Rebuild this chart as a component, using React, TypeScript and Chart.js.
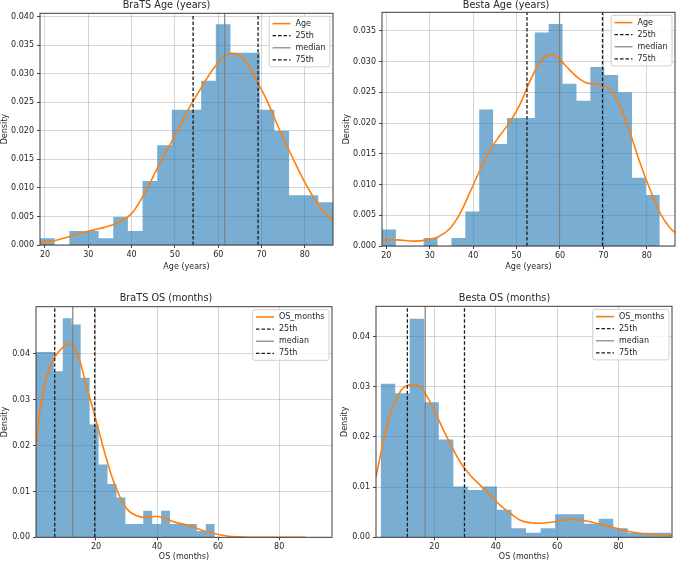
import { useEffect, useRef } from "react";
import { Chart, registerables } from "chart.js";

Chart.register(...registerables);

const FONT_FAMILY = "'DejaVu Sans', 'Liberation Sans', sans-serif";
const TEXT_COLOR = "#262626";
const HIST_FILL = "rgba(31, 119, 180, 0.6)";
const KDE_COLOR = "#ff7f0e";
const QUARTILE_COLOR = "#1a1a1a";
const MEDIAN_COLOR = "#808080";
const GRID_COLOR = "rgba(0, 0, 0, 0.16)";
const TITLE_SIZE = 9.7;

// ---- BraTS: age at diagnosis ----
const bratsAgeBinRange = [18.85, 86.5];
const bratsAgeDensity = [
  0.00117, 0, 0.00245, 0.00245, 0.00117, 0.0049, 0.00245, 0.0112, 0.0175, 0.0237,
  0.0237, 0.0288, 0.0387, 0.0337, 0.0337, 0.0237, 0.02, 0.0087, 0.0087, 0.0075,
];
const bratsAgeKdeX = [
  18.85, 22.3, 25.8, 28.8, 32.7, 35.8, 38, 40, 41.9, 44.2, 46.5, 49.6, 52.7, 55.8,
  58.8, 61.9, 62.8, 65.8, 68.8, 71.2, 74.2, 77.3, 80.4, 83.5, 86.5,
];
const bratsAgeKdeY = [
  0.0005, 0.0008, 0.0015, 0.0022, 0.0029, 0.0036, 0.0044, 0.0055, 0.0076, 0.0108,
  0.0143, 0.0186, 0.0232, 0.0272, 0.0308, 0.0333, 0.0336, 0.0327, 0.0289, 0.0254,
  0.0201, 0.0151, 0.0104, 0.0067, 0.0042,
];
const bratsAgeQuartiles = [54.2, 61.5, 69.2];
const bratsAgeXLim = [18.85, 86.5];
const bratsAgeYMax = 0.0406;

// ---- Besta: age at diagnosis ----
const bestaAgeBinRange = [19, 83];
const bestaAgeDensity = [
  0.0027, 0, 0, 0.0013, 0, 0.0013, 0.0056, 0.0222, 0.0166, 0.0208,
  0.0208, 0.0347, 0.0361, 0.0264, 0.0236, 0.0291, 0.0278, 0.025, 0.0111, 0.0083,
];
const bestaAgeKdeX = [
  19, 22.5, 26.3, 29.4, 32, 34.7, 37, 39.3, 41.6, 43.9, 46.2, 48.5, 50.9, 53.2, 55.5,
  57.8, 59.7, 61.6, 63.9, 66.2, 69.3, 71.6, 73.9, 76.2, 78.5, 80.8, 83.1, 85.4, 86.5,
];
const bestaAgeKdeY = [
  0.001, 0.001, 0.0008, 0.001, 0.0015, 0.0029, 0.0053, 0.0088, 0.0124, 0.0156, 0.018,
  0.0202, 0.0232, 0.027, 0.03, 0.0312, 0.0305, 0.0291, 0.0275, 0.0265, 0.0262, 0.0254,
  0.0226, 0.0183, 0.0134, 0.0091, 0.0053, 0.0029, 0.0022,
];
const bestaAgeQuartiles = [52.4, 59.9, 69.8];
const bestaAgeXLim = [19, 86.5];
const bestaAgeYMax = 0.038;

// ---- BraTS: overall survival ----
const bratsOsBinRange = [0.36, 58.9];
const bratsOsDensity = [
  0.0404, 0.0404, 0.0362, 0.0478, 0.0464, 0.0348, 0.0246, 0.0159, 0.0116, 0.0087,
  0.0029, 0.0029, 0.0058, 0.0029, 0.0058, 0.0029, 0.0029, 0.0029, 0.0014, 0.0029,
];
const bratsOsKdeX = [
  0.36, 1.7, 3.3, 4.9, 6.6, 8.8, 10.9, 12.6, 14.8, 16.9, 19.1, 21.3, 23.5, 25.6, 27.8,
  30, 33.3, 36.6, 39.8, 43.1, 46.4, 49.7, 53, 56.2, 59.5, 62.8, 66.1, 70.5, 80, 88.6,
];
const bratsOsKdeY = [
  0.0198, 0.0278, 0.0336, 0.0371, 0.0394, 0.0412, 0.0422, 0.0416, 0.0383, 0.0329,
  0.0278, 0.0223, 0.0169, 0.0125, 0.0089, 0.0063, 0.0047, 0.0043, 0.0046, 0.004,
  0.0032, 0.0027, 0.002, 0.0012, 0.0007, 0.0003, 0.0001, 0, 0, 0,
];
const bratsOsQuartiles = [6.5, 12.4, 19.6];
const bratsOsXLim = [0.36, 97.3];
const bratsOsYMax = 0.0503;

// ---- Besta: overall survival ----
const bestaOsBinRange = [2.5, 97.2];
const bestaOsDensity = [
  0.0306, 0.0287, 0.0435, 0.0269, 0.0195, 0.0101, 0.0094, 0.0101, 0.0055, 0.0018,
  0.0009, 0.0018, 0.0046, 0.0046, 0.0027, 0.0037, 0.0018, 0.0009, 0.0009, 0.0009,
];
const bestaOsKdeX = [
  0.98, 2.8, 5, 7.2, 9.3, 11.5, 13.7, 15.9, 18, 20.2, 23, 25.7, 28.4, 31.6, 34.9, 38.2,
  41.4, 44.7, 48, 51.3, 54.5, 57.8, 61.1, 64.3, 67.6, 70.8, 74.1, 77.3, 80.5, 83.8,
  88.1, 92.5, 97.4,
];
const bestaOsKdeY = [
  0.012, 0.0174, 0.0233, 0.027, 0.0294, 0.0303, 0.0304, 0.0296, 0.0276, 0.025, 0.0213,
  0.018, 0.015, 0.0124, 0.0104, 0.0084, 0.0064, 0.0048, 0.0034, 0.0029, 0.0028, 0.003,
  0.0033, 0.0036, 0.0034, 0.0031, 0.0026, 0.0021, 0.0016, 0.0011, 0.0007, 0.0005, 0.0003,
];
const bestaOsQuartiles = [11.2, 17.0, 29.8];
const bestaOsXLim = [0.98, 97.4];
const bestaOsYMax = 0.046;

// ---- tick values ----
const ageXTicks = [20, 30, 40, 50, 60, 70, 80];
const osXTicks = [20, 40, 60, 80];
const bratsAgeYTicks = [0, 0.005, 0.01, 0.015, 0.02, 0.025, 0.03, 0.035, 0.04];
const bestaAgeYTicks = [0, 0.005, 0.01, 0.015, 0.02, 0.025, 0.03, 0.035];
const osYTicks = [0, 0.01, 0.02, 0.03, 0.04];

const quartileLabels = ["25th", "median", "75th"];

type Box = { x: number; y: number; w: number; h: number };
type Plot = { left: number; top: number; right: number; bottom: number };

type Panel = {
  title: string;
  xLabel: string;
  kdeLabel: string;
  binRange: number[];
  density: number[];
  kdeX: number[];
  kdeY: number[];
  quartiles: number[];
  xLim: number[];
  yMax: number;
  xTicks: number[];
  yTicks: number[];
  yDecimals: number;
  box: Box;
  plot: Plot;
  yTitleCenter: number;
  xTitleOffset: number;
};

const PANELS: Panel[] = [
  {
    title: "BraTS Age (years)",
    xLabel: "Age (years)",
    kdeLabel: "Age",
    binRange: bratsAgeBinRange,
    density: bratsAgeDensity,
    kdeX: bratsAgeKdeX,
    kdeY: bratsAgeKdeY,
    quartiles: bratsAgeQuartiles,
    xLim: bratsAgeXLim,
    yMax: bratsAgeYMax,
    xTicks: ageXTicks,
    yTicks: bratsAgeYTicks,
    yDecimals: 3,
    box: { x: 0, y: 0, w: 337, h: 280 },
    plot: { left: 40, top: 13.3, right: 333, bottom: 245 },
    yTitleCenter: 4.8,
    xTitleOffset: 21.7,
  },
  {
    title: "Besta Age (years)",
    xLabel: "Age (years)",
    kdeLabel: "Age",
    binRange: bestaAgeBinRange,
    density: bestaAgeDensity,
    kdeX: bestaAgeKdeX,
    kdeY: bestaAgeKdeY,
    quartiles: bestaAgeQuartiles,
    xLim: bestaAgeXLim,
    yMax: bestaAgeYMax,
    xTicks: ageXTicks,
    yTicks: bestaAgeYTicks,
    yDecimals: 3,
    box: { x: 337, y: 0, w: 340, h: 280 },
    plot: { left: 45, top: 12.3, right: 338, bottom: 246 },
    yTitleCenter: 10,
    xTitleOffset: 20.7,
  },
  {
    title: "BraTS OS (months)",
    xLabel: "OS (months)",
    kdeLabel: "OS_months",
    binRange: bratsOsBinRange,
    density: bratsOsDensity,
    kdeX: bratsOsKdeX,
    kdeY: bratsOsKdeY,
    quartiles: bratsOsQuartiles,
    xLim: bratsOsXLim,
    yMax: bratsOsYMax,
    xTicks: osXTicks,
    yTicks: osYTicks,
    yDecimals: 2,
    box: { x: 0, y: 280, w: 337, h: 283 },
    plot: { left: 36, top: 26.7, right: 332, bottom: 257.3 },
    yTitleCenter: 5,
    xTitleOffset: 19.4,
  },
  {
    title: "Besta OS (months)",
    xLabel: "OS (months)",
    kdeLabel: "OS_months",
    binRange: bestaOsBinRange,
    density: bestaOsDensity,
    kdeX: bestaOsKdeX,
    kdeY: bestaOsKdeY,
    quartiles: bestaOsQuartiles,
    xLim: bestaOsXLim,
    yMax: bestaOsYMax,
    xTicks: osXTicks,
    yTicks: osYTicks,
    yDecimals: 2,
    box: { x: 337, y: 280, w: 340, h: 283 },
    plot: { left: 39, top: 26.3, right: 335, bottom: 257.3 },
    yTitleCenter: 8.3,
    xTitleOffset: 19.4,
  },
];

// Axes frame (all four spines) and a boxed legend for the line series.
const frameAndLegend = {
  id: "frameAndLegend",
  afterDatasetsDraw(chart: any) {
    const { ctx, chartArea: a } = chart;
    ctx.save();
    ctx.strokeStyle = "#3c3c3c";
    ctx.lineWidth = 1;
    ctx.strokeRect(a.left, a.top, a.right - a.left, a.bottom - a.top);
    ctx.restore();
  },
  afterDraw(chart: any) {
    const { ctx, chartArea: a } = chart;
    const items = chart.data.datasets.filter((d: any) => d.fill === false);
    ctx.save();
    ctx.font = `8px ${FONT_FAMILY}`;
    const textW = Math.max(...items.map((d: any) => ctx.measureText(d.label).width));
    const padL = 3.3;
    const sample = 18;
    const gap = 5;
    const padR = 4.5;
    const padTop = 7.3;
    const rowH = 12.1;
    const padBottom = 7;
    const bw = padL + sample + gap + textW + padR;
    const bh = padTop + rowH * (items.length - 1) + padBottom;
    const bx = a.right - 3 - bw;
    const by = a.top + 3;
    const r = 2;
    ctx.beginPath();
    ctx.moveTo(bx + r, by);
    ctx.lineTo(bx + bw - r, by);
    ctx.quadraticCurveTo(bx + bw, by, bx + bw, by + r);
    ctx.lineTo(bx + bw, by + bh - r);
    ctx.quadraticCurveTo(bx + bw, by + bh, bx + bw - r, by + bh);
    ctx.lineTo(bx + r, by + bh);
    ctx.quadraticCurveTo(bx, by + bh, bx, by + bh - r);
    ctx.lineTo(bx, by + r);
    ctx.quadraticCurveTo(bx, by, bx + r, by);
    ctx.closePath();
    ctx.fillStyle = "rgba(255, 255, 255, 0.8)";
    ctx.fill();
    ctx.strokeStyle = "#d0d0d0";
    ctx.lineWidth = 1;
    ctx.stroke();

    items.forEach((d: any, i: number) => {
      const cy = by + padTop + i * rowH;
      ctx.beginPath();
      ctx.setLineDash(d.borderDash || []);
      ctx.strokeStyle = d.borderColor;
      ctx.lineWidth = d.borderWidth;
      ctx.moveTo(bx + padL, cy);
      ctx.lineTo(bx + padL + sample, cy);
      ctx.stroke();
      ctx.setLineDash([]);
      ctx.fillStyle = TEXT_COLOR;
      ctx.textAlign = "left";
      ctx.textBaseline = "middle";
      ctx.fillText(d.label, bx + padL + sample + gap, cy);
    });
    ctx.restore();
  },
};

function buildChart(canvas: HTMLCanvasElement, p: Panel) {
  const n = p.density.length;
  const binW = (p.binRange[1] - p.binRange[0]) / n;
  // Histogram outline: one point per bin's left edge plus the closing right edge;
  // each segment keeps the height of the bin it starts.
  const hist = [
    ...p.density.map((d, i) => ({ x: p.binRange[0] + binW * i, y: d })),
    { x: p.binRange[1], y: p.density[n - 1] },
  ];
  const kde = p.kdeX.map((x, i) => ({ x, y: p.kdeY[i] }));
  const vline = (q: number) => [
    { x: q, y: 0 },
    { x: q, y: p.yMax },
  ];
  const { w: W, h: H } = p.box;
  const { left, top, right, bottom } = p.plot;
  const titleLine = TITLE_SIZE * 1.2;
  const layoutTop = Math.max(0, top - titleLine - 2.2);
  const titlePadBottom = Math.max(0, top - layoutTop - titleLine);
  const xAxisH = H - bottom;

  const tickFont = { family: FONT_FAMILY, size: 8 };
  const labelFont = { family: FONT_FAMILY, size: 8 };

  const quartileSets = p.quartiles.map((q, i) => ({
    type: "line" as const,
    label: quartileLabels[i],
    data: vline(q),
    borderColor: i === 1 ? MEDIAN_COLOR : QUARTILE_COLOR,
    borderWidth: i === 1 ? 1.2 : 1.3,
    borderDash: i === 1 ? [] : [3.5, 2],
    pointRadius: 0,
    fill: false,
    order: 0,
  }));

  return new Chart(canvas, {
    type: "line",
    data: {
      datasets: [
        {
          type: "line",
          label: p.kdeLabel,
          data: kde,
          borderColor: KDE_COLOR,
          borderWidth: 1.6,
          cubicInterpolationMode: "monotone",
          pointRadius: 0,
          fill: false,
          order: 1,
        },
        ...quartileSets,
        {
          type: "line",
          label: "histogram",
          data: hist,
          stepped: "before",
          backgroundColor: HIST_FILL,
          borderColor: "rgba(0,0,0,0)",
          borderWidth: 0,
          pointRadius: 0,
          fill: "origin",
          order: 2,
        },
      ] as any,
    },
    options: {
      animation: false,
      responsive: false,
      devicePixelRatio: 1,
      layout: { padding: { left: 0, top: layoutTop, right: W - right, bottom: 0 } },
      plugins: {
        legend: { display: false },
        tooltip: { enabled: false },
        title: {
          display: true,
          text: p.title,
          color: TEXT_COLOR,
          font: { family: FONT_FAMILY, size: TITLE_SIZE, weight: "normal" },
          padding: { top: 0, bottom: titlePadBottom },
        },
      },
      scales: {
        x: {
          type: "linear",
          min: p.xLim[0],
          max: p.xLim[1],
          bounds: "data",
          offset: false,
          afterBuildTicks: (s: any) => {
            s.ticks = p.xTicks.map((v) => ({ value: v }));
          },
          afterFit: (s: any) => {
            s.height = xAxisH;
          },
          grid: { color: GRID_COLOR, lineWidth: 1, tickLength: 3, tickColor: "#444", drawTicks: true },
          border: { display: false },
          ticks: {
            color: TEXT_COLOR,
            font: tickFont,
            padding: 2,
            maxRotation: 0,
            autoSkip: false,
            callback: (v: any) => String(v),
          },
          title: {
            display: true,
            text: p.xLabel,
            color: TEXT_COLOR,
            font: labelFont,
            padding: { top: 0, bottom: xAxisH - p.xTitleOffset - 4.8 },
          },
        },
        y: {
          type: "linear",
          min: 0,
          max: p.yMax,
          bounds: "data",
          afterBuildTicks: (s: any) => {
            s.ticks = p.yTicks.map((v) => ({ value: v }));
          },
          afterFit: (s: any) => {
            s.width = left;
          },
          grid: { color: GRID_COLOR, lineWidth: 1, tickLength: 3, tickColor: "#444", drawTicks: true },
          border: { display: false },
          ticks: {
            color: TEXT_COLOR,
            font: tickFont,
            padding: 3,
            autoSkip: false,
            callback: (v: any) => Number(v).toFixed(p.yDecimals),
          },
          title: {
            display: true,
            text: "Density",
            color: TEXT_COLOR,
            font: labelFont,
            padding: { top: Math.max(0, p.yTitleCenter - 4.8), bottom: 0 },
          },
        },
      },
    } as any,
    plugins: [frameAndLegend],
  });
}

export default function App() {
  const refs = useRef<(HTMLCanvasElement | null)[]>([]);

  useEffect(() => {
    const charts = PANELS.map((p, i) => buildChart(refs.current[i] as HTMLCanvasElement, p));
    return () => charts.forEach((c) => c.destroy());
  }, []);

  return (
    <div
      style={{
        position: "fixed",
        left: 0,
        top: 0,
        width: 677,
        height: 563,
        background: "#ffffff",
        overflow: "hidden",
      }}
    >
      {PANELS.map((p, i) => (
        <canvas
          key={p.title}
          ref={(el) => {
            refs.current[i] = el;
          }}
          width={p.box.w}
          height={p.box.h}
          style={{
            position: "absolute",
            left: p.box.x,
            top: p.box.y,
            width: p.box.w,
            height: p.box.h,
          }}
        />
      ))}
    </div>
  );
}
